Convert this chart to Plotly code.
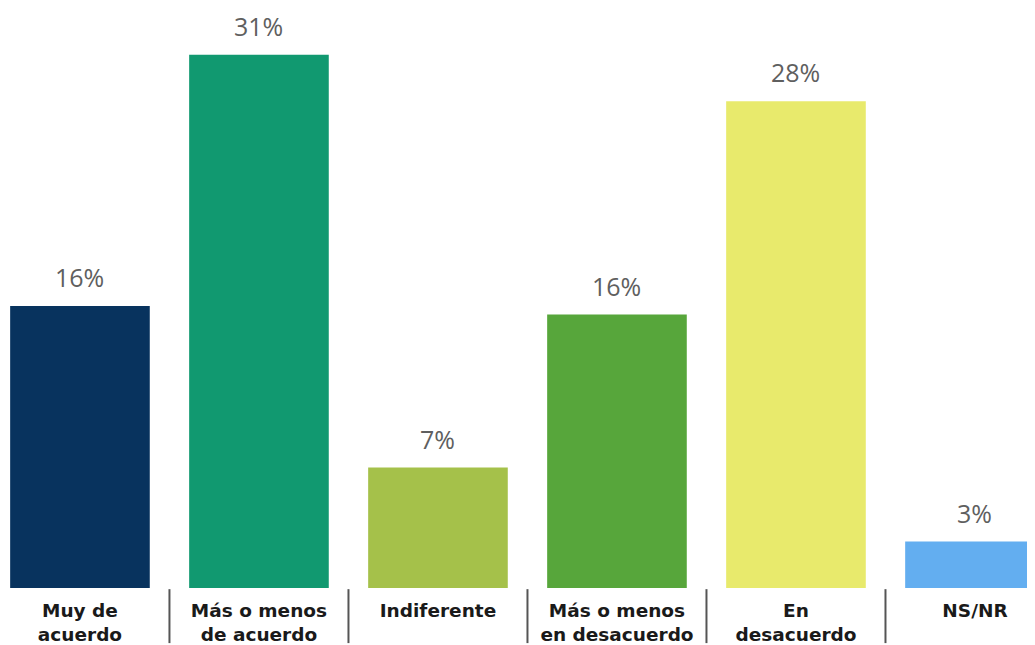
import plotly.graph_objects as go

categories = ["Muy de<br>acuerdo", "Más o menos<br>de acuerdo", "Indiferente",
              "Más o menos<br>en desacuerdo", "En<br>desacuerdo", "NS/NR"]
values = [16.4, 31.0, 7.0, 15.9, 28.3, 2.7]
value_labels = ["16%", "31%", "7%", "16%", "28%", "3%"]
colors = ["#08335E", "#119970", "#A5C14A", "#57A63B", "#E8EA6C", "#63AEF0"]

xs = list(range(len(categories)))

fig = go.Figure()
fig.add_trace(go.Bar(
    x=xs, y=values, marker=dict(color=colors, line=dict(width=0)),
    width=0.78, hoverinfo="skip",
))

for x, v, t in zip(xs, values, value_labels):
    fig.add_annotation(x=x, y=v, text=t, showarrow=False, yanchor="bottom",
                       yshift=10, font=dict(family="Open Sans", size=25, color="#5f5f5f"))

for i in range(len(categories) - 1):
    fig.add_shape(type="line", xref="x", yref="paper", x0=i + 0.5, x1=i + 0.5,
                  y0=-0.002, y1=-0.095, line=dict(color="#555555", width=2))

fig.update_layout(
    width=1035, height=645,
    margin=dict(l=0, r=0, t=0, b=65),
    paper_bgcolor="white", plot_bgcolor="white",
    showlegend=False,
    xaxis=dict(range=[-0.402, 5.38], tickmode="array", tickvals=xs, ticktext=categories,
               showgrid=False, zeroline=False, showline=False, ticks="",
               tickfont=dict(family="DejaVu Sans", size=18.5, color="#1a1a1a", weight="bold"),
               ticklabelstandoff=9),
    yaxis=dict(range=[0, 33.72], visible=False, showgrid=False, zeroline=False),
)

fig.write_html("out.html")
